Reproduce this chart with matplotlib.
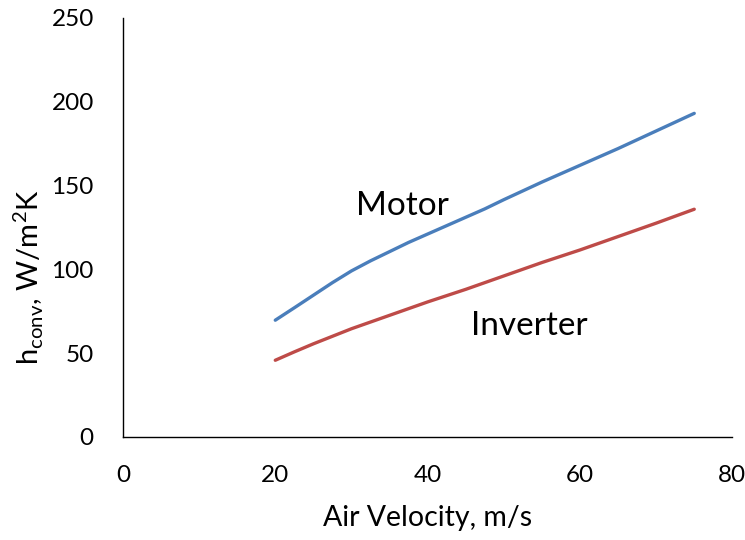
import matplotlib
matplotlib.use('Agg')
import matplotlib.pyplot as plt

plt.rcParams['font.family'] = ['Lato', 'DejaVu Sans']

# values
motor_v = [20, 22.5, 25, 27.5, 30, 32.5, 35, 37.5, 40, 42.5, 45, 47.5, 50, 55, 60, 65, 70, 75]
motor = [69.6, 77, 84.5, 92, 99, 105, 110.5, 116, 121, 126, 131, 136, 141.5, 152, 162, 172, 182.5, 193]
inverter_v = [20, 22.5, 25, 27.5, 30, 35, 40, 45, 50, 55, 60, 65, 70, 75]
inverter = [45.7, 50.7, 55.5, 60, 64.5, 72.5, 80.5, 88, 96, 104, 111.5, 119.5, 127.5, 135.8]

fig = plt.figure(figsize=(7.45, 5.4), dpi=100)
ax = fig.add_axes([0.165, 0.191, 0.818, 0.776])

ax.plot(motor_v, motor, color='#4A7EBB', lw=2.4, solid_capstyle='round')
ax.plot(inverter_v, inverter, color='#BE4B48', lw=2.4, solid_capstyle='round')

ax.text(36.7, 138, 'Motor', fontsize=24, ha='center', va='center')
ax.text(53.4, 66, 'Inverter', fontsize=24, ha='center', va='center')

ax.set_xlim(0, 80)
ax.set_ylim(0, 250)
ax.set_xticks([0, 20, 40, 60, 80])
ax.set_yticks([0, 50, 100, 150, 200, 250])
ax.tick_params(length=0, labelsize=17.5)
ax.tick_params(axis='x', pad=20)
ax.tick_params(axis='y', pad=21)

for s in ['top', 'right']:
    ax.spines[s].set_visible(False)
for s in ['left', 'bottom']:
    ax.spines[s].set_color('#000000')
    ax.spines[s].set_linewidth(1.0)

ax.set_xlabel('Air Velocity, m/s', fontsize=20.5, labelpad=14)
ax.set_ylabel(r'h$_{\mathregular{conv}}$, W/m$^{\mathregular{2}}$K', fontsize=21, va='center')
ax.yaxis.set_label_coords(-0.155, 0.382)

fig.savefig('out.png', dpi=100)
